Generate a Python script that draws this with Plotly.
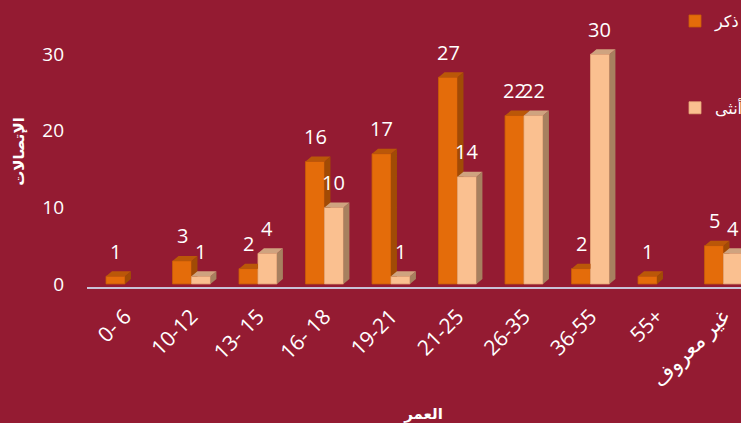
import plotly.graph_objects as go

categories = ["0- 6", "10-12", "13- 15", "16- 18", "19-21", "21-25", "26-35", "36-55", "55+", "غير معروف"]
male = [1, 3, 2, 16, 17, 27, 22, 2, 1, 5]
female = [0, 1, 4, 10, 1, 14, 22, 30, 0, 4]
series_names = ["ذكر", "أنثى"]
y_ticks = [0, 10, 20, 30]

BG = "#941B32"
M_FRONT, M_SIDE, M_TOP = "#E46C0A", "#A14B05", "#BA5708"
F_FRONT, F_SIDE, F_TOP = "#FAC090", "#A7805F", "#CFA37F"
FONT = "Open Sans, DejaVu Sans, sans-serif"

BW = 0.285   # bar width (category units)
DX = 0.09    # 3D depth in x (category units)
DY = 0.65    # 3D depth in y (value units)

idx = list(range(len(categories)))
male_x = [i - BW / 2 for i in idx]
female_x = [i + BW / 2 for i in idx]

fig = go.Figure()
fig.add_trace(go.Bar(x=male_x, y=[v if v > 0 else None for v in male], width=BW,
                     name=series_names[0], legendgroup="m",
                     marker=dict(color=M_FRONT, line=dict(color="#C85E08", width=0.8))))
fig.add_trace(go.Bar(x=female_x, y=[v if v > 0 else None for v in female], width=BW,
                     name=series_names[1], legendgroup="f",
                     marker=dict(color=F_FRONT, line=dict(color="#E6A878", width=0.8))))


def poly_trace(xs, ys, color):
    return go.Scatter(x=xs, y=ys, mode="lines", fill="toself", fillcolor=color,
                      line=dict(width=0, color=color), showlegend=False, hoverinfo="skip")


# male side / top faces (clipped where the female front face stands in front)
ms_x, ms_y, mt_x, mt_y = [], [], [], []
for i, v, f in zip(idx, male, female):
    if v <= 0:
        continue
    x0 = i - BW
    x1 = i
    if f < v:
        b = max(f, 0)
        if b > 0:
            ms_x += [x1, x1 + DX, x1 + DX, x1, None]
            ms_y += [b, b, v + DY, v, None]
        else:
            ms_x += [x1, x1 + DX, x1 + DX, x1, None]
            ms_y += [0, DY, v + DY, v, None]
    if f > v:
        mt_x += [x0, x1, x1, x0 + DX, None]
        mt_y += [v, v, v + DY, v + DY, None]
    else:
        mt_x += [x0, x1, x1 + DX, x0 + DX, None]
        mt_y += [v, v, v + DY, v + DY, None]

fs_x, fs_y, ft_x, ft_y = [], [], [], []
for i, f in zip(idx, female):
    if f <= 0:
        continue
    x1 = i
    x2 = i + BW
    fs_x += [x2, x2 + DX, x2 + DX, x2, None]
    fs_y += [0, DY, f + DY, f, None]
    ft_x += [x1, x2, x2 + DX, x1 + DX, None]
    ft_y += [f, f, f + DY, f + DY, None]

fig.add_trace(poly_trace(ms_x, ms_y, M_SIDE))
fig.add_trace(poly_trace(mt_x, mt_y, M_TOP))
fig.add_trace(poly_trace(fs_x, fs_y, F_SIDE))
fig.add_trace(poly_trace(ft_x, ft_y, F_TOP))

annotations = []
for xs, vals in ((male_x, male), (female_x, female)):
    for x, v in zip(xs, vals):
        if v <= 0:
            continue
        annotations.append(dict(x=x, y=v, text=str(v), showarrow=False, xref="x", yref="y",
                                yanchor="middle", yshift=25,
                                font=dict(family=FONT, size=20, color="white")))

# The original chart is cropped on its right side: the figure is a little wider than the window.
fig.update_layout(
    width=760, height=423,
    paper_bgcolor=BG, plot_bgcolor=BG,
    margin=dict(l=87, r=0, t=16, b=136),
    barmode="overlay",
    font=dict(family=FONT, color="white"),
    showlegend=True,
    legend=dict(x=0.8737, y=1.044, xanchor="left", yanchor="top",
                traceorder="grouped", tracegroupgap=63, itemwidth=30,
                bgcolor="rgba(0,0,0,0)", font=dict(family=FONT, size=16, color="white")),
    annotations=annotations,
    xaxis=dict(range=[-0.571, 9.549], tickmode="array", tickvals=idx, ticktext=categories,
               tickangle=-45, tickfont=dict(family=FONT, size=21, color="white"),
               showline=True, linecolor="#C9C2D8", linewidth=2, showgrid=False, zeroline=False,
               ticks="", ticklabelstandoff=7, automargin=False,
               title=dict(text="<b>العمر</b>", font=dict(family=FONT, size=15, color="white"),
                          standoff=30)),
    yaxis=dict(range=[-0.4, 35], tickmode="array", tickvals=y_ticks,
               tickfont=dict(family=FONT, size=19, color="white"),
               showline=False, showgrid=False, zeroline=False, ticks="",
               ticklabelstandoff=22, automargin=False,
               title=dict(text="<b>الإتصالات</b>", font=dict(family=FONT, size=15, color="white"),
                          standoff=14)),
)

fig.write_html("out.html", config={"displayModeBar": False},
               post_script="document.body.style.margin='0';document.body.style.padding='0';"
                           "document.body.style.overflow='hidden';"
                           "document.documentElement.style.overflow='hidden';")
